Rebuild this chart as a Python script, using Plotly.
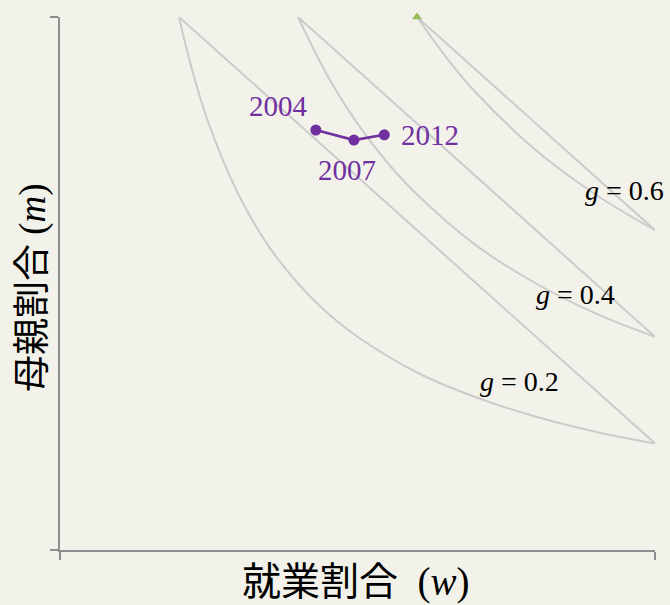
import plotly.graph_objects as go

# ---- data ----
g_values = [0.2, 0.4, 0.6]
g_labels = ["<i>g</i> = 0.2", "<i>g</i> = 0.4", "<i>g</i> = 0.6"]

# lower (convex) boundary of each g-lens
low_w_02 = [0.2, 0.22, 0.25, 0.3, 0.35, 0.4, 0.45, 0.5, 0.6, 0.7, 0.8, 0.9, 1.0]
low_m_02 = [1.0, 0.909, 0.8, 0.667, 0.571, 0.5, 0.444, 0.4, 0.333, 0.286, 0.25, 0.222, 0.2]
low_w_04 = [0.4, 0.45, 0.5, 0.55, 0.6, 0.7, 0.8, 0.9, 1.0]
low_m_04 = [1.0, 0.889, 0.8, 0.727, 0.667, 0.571, 0.5, 0.444, 0.4]
low_w_06 = [0.6, 0.65, 0.7, 0.8, 0.9, 1.0]
low_m_06 = [1.0, 0.923, 0.857, 0.75, 0.667, 0.6]

# upper (straight) boundary of each g-lens
up_w_02 = [0.2, 1.0]
up_m_02 = [1.0, 0.2]
up_w_04 = [0.4, 1.0]
up_m_04 = [1.0, 0.4]
up_w_06 = [0.6, 1.0]
up_m_06 = [1.0, 0.6]

# observed path
years = ["2004", "2007", "2012"]
obs_w = [0.43, 0.494, 0.545]
obs_m = [0.788, 0.769, 0.779]

# marker at top
tri_w = [0.6]
tri_m = [1.0]

x_title = "就業割合\u00a0\u00a0(<i>w</i>)"
y_title = "母親割合 (<i>m</i>)"

BG = "#f3f2ea"
CURVE = "#cbcbcb"
PURPLE = "#7030a0"
AXIS = "#8e8e8e"
FONT = "Liberation Serif, Times New Roman, Noto Sans CJK JP, serif"

fig = go.Figure()

curves = [(low_w_02, low_m_02), (up_w_02, up_m_02),
          (low_w_04, low_m_04), (up_w_04, up_m_04),
          (low_w_06, low_m_06), (up_w_06, up_m_06)]
for w, m in curves:
    fig.add_trace(go.Scatter(x=w, y=m, mode="lines",
                             line=dict(color=CURVE, width=2, shape="spline"),
                             hoverinfo="skip", showlegend=False))

fig.add_trace(go.Scatter(x=obs_w, y=obs_m, mode="lines+markers",
                         line=dict(color=PURPLE, width=2.7),
                         marker=dict(color=PURPLE, size=11),
                         text=years, showlegend=False, cliponaxis=False))

fig.add_trace(go.Scatter(x=tri_w, y=tri_m, mode="markers",
                         marker=dict(symbol="triangle-up", color="#9bbb59", size=9),
                         showlegend=False, cliponaxis=False))

# year labels
year_pos = [(0.368, 0.833), (0.482, 0.713), (0.621, 0.7795)]
for yr, (x, y) in zip(years, year_pos):
    fig.add_annotation(x=x, y=y, text=yr, showarrow=False,
                       font=dict(family=FONT, size=29, color=PURPLE))

# g labels
g_pos = [(0.773, 0.316), (0.867, 0.479), (0.948, 0.675)]
for lab, (x, y) in zip(g_labels, g_pos):
    fig.add_annotation(x=x, y=y, text=lab, showarrow=False,
                       font=dict(family=FONT, size=28, color="#000000"))

# axis titles
fig.add_annotation(x=0.497, y=-0.06, xref="paper", yref="paper", text=x_title,
                   showarrow=False, xanchor="center", yanchor="middle",
                   font=dict(family=FONT, size=39, color="#000000"))
fig.add_annotation(x=-0.0454, y=0.4934, xref="paper", yref="paper", text=y_title,
                   showarrow=False, textangle=-90, xanchor="center", yanchor="middle",
                   font=dict(family=FONT, size=37, color="#000000"))

axis_common = dict(range=[0, 1], tickvals=[0, 1], ticks="outside", ticklen=8,
                   tickwidth=2, tickcolor=AXIS, showticklabels=False,
                   showline=True, linecolor=AXIS, linewidth=2,
                   showgrid=False, zeroline=False)

fig.update_layout(
    width=670, height=605,
    margin=dict(l=60, r=15, t=17, b=55, autoexpand=False),
    paper_bgcolor=BG, plot_bgcolor=BG,
    font=dict(family=FONT, color="#000000"),
    xaxis=axis_common,
    yaxis=axis_common,
)

fig.write_html("out.html",
               config={"displayModeBar": False},
               post_script="document.body.style.margin='0';"
                           "document.body.style.background='" + BG + "';")
